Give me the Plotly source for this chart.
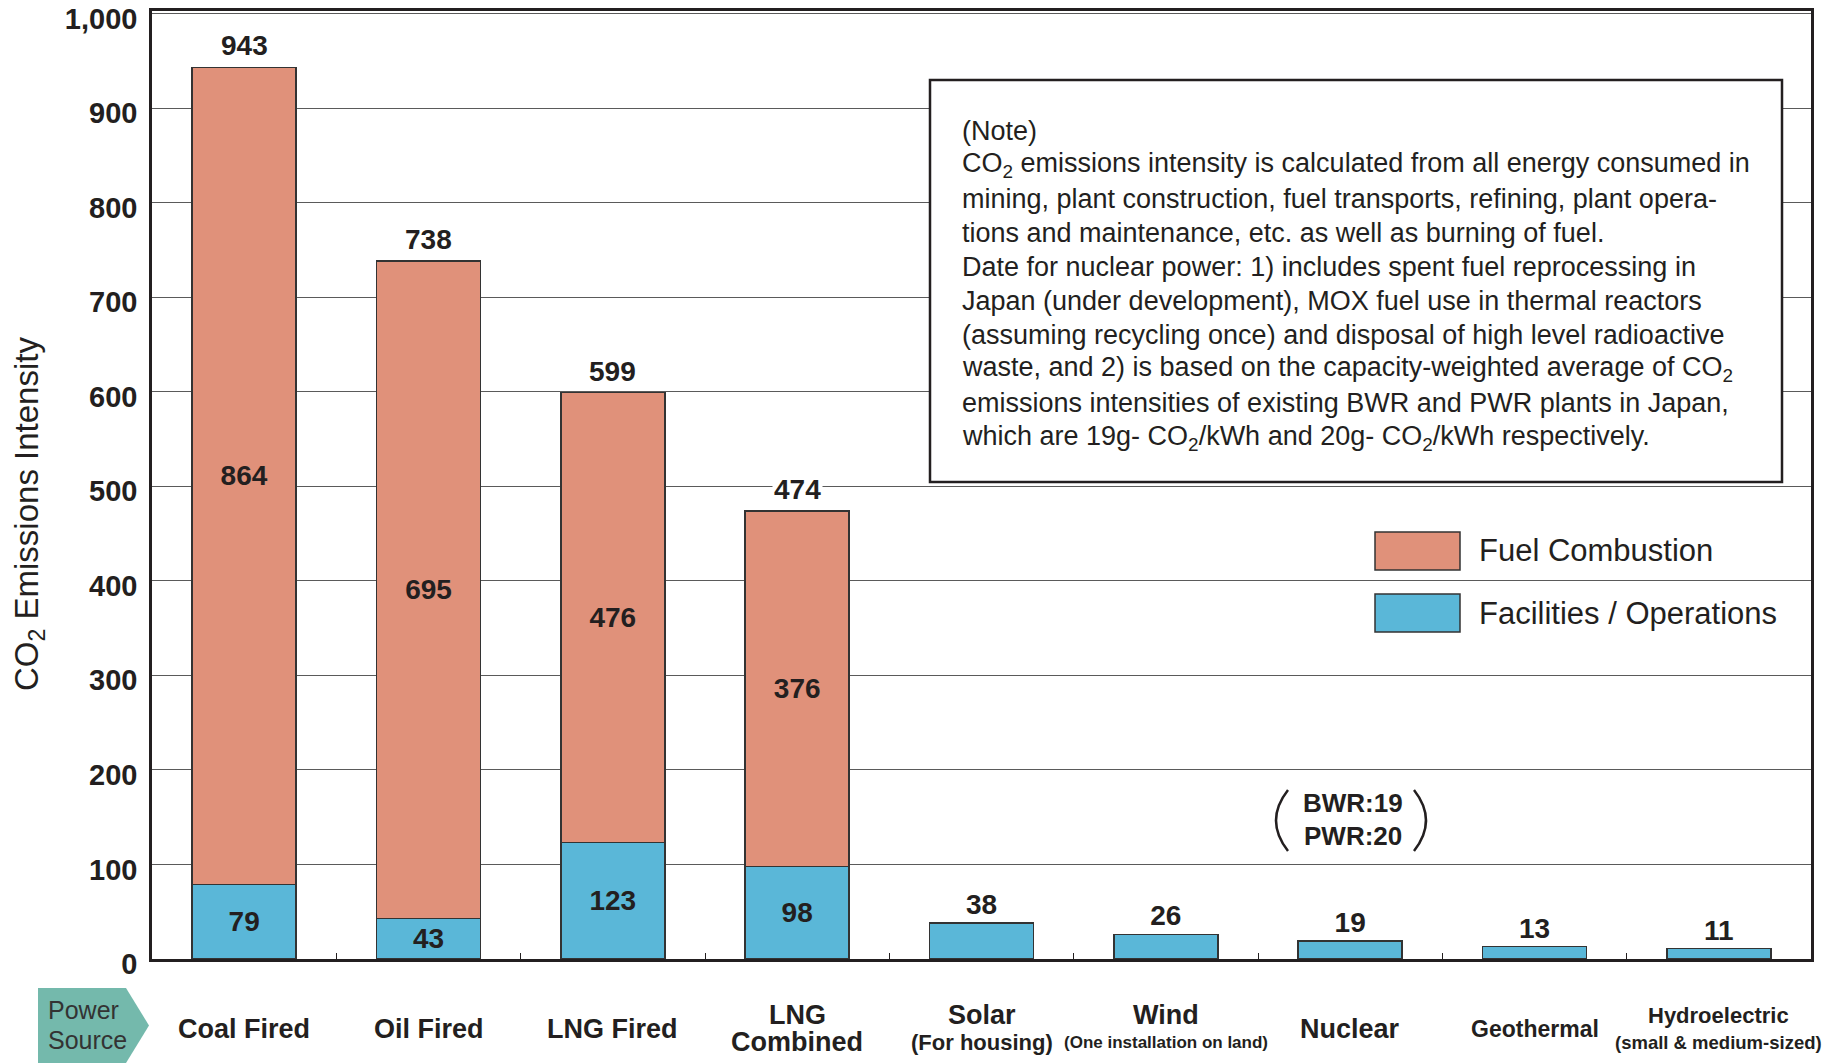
import plotly.graph_objects as go

# ---- data ----
categories = ["Coal Fired", "Oil Fired", "LNG Fired", "LNG Combined", "Solar",
              "Wind", "Nuclear", "Geothermal", "Hydroelectric"]
# fuel combustion applies only to the thermal sources (first four categories)
fuel_combustion = [864, 695, 476, 376]
facilities_operations = [79, 43, 123, 98, 38, 26, 19, 13, 11]

label_main = [["Coal Fired"], ["Oil Fired"], ["LNG Fired"], ["LNG", "Combined"], ["Solar"],
              ["Wind"], ["Nuclear"], ["Geothermal"], ["Hydroelectric"]]
label_main_size = [27, 27, 27, 27, 27, 27, 27, 23, 22]
label_sub = ["", "", "", "", "(For housing)", "(One installation on land)", "", "",
             "(small & medium-sized)"]
label_sub_size = [0, 0, 0, 0, 22, 17, 0, 0, 18.5]

y_ticks = [0, 100, 200, 300, 400, 500, 600, 700, 800, 900, 1000]

note_lines = [
    "(Note)",
    "CO<sub>2</sub> emissions intensity is calculated from all energy consumed in",
    "mining, plant construction, fuel transports, refining, plant opera-",
    "tions and maintenance, etc. as well as burning of fuel.",
    "Date for nuclear power: 1) includes spent fuel reprocessing in",
    "Japan (under development), MOX fuel use in thermal reactors",
    "(assuming recycling once) and disposal of high level radioactive",
    "waste, and 2) is based on the capacity-weighted average of CO<sub>2</sub>",
    "emissions intensities of existing BWR and PWR plants in Japan,",
    "which are 19g- CO<sub>2</sub>/kWh and 20g- CO<sub>2</sub>/kWh respectively.",
]
nuclear_detail = ["BWR:19", "PWR:20"]

# ---- styling ----
W, H = 1829, 1064
L, R, T, B = 152, 1811, 11, 959
FUEL = "#E0917A"
FAC = "#5AB7D8"
INK = "#231F20"
SANS = "Liberation Sans, Arial, Helvetica, sans-serif"


def px_x(px):
    return (px - L) / (R - L)


def px_y(py):
    return (B - py) / (B - T)


n_fuel = len(fuel_combustion)
fuel_cats = categories[:n_fuel]
totals = [f + c for f, c in zip(fuel_combustion, facilities_operations[:n_fuel])]
fac_positions = ["inside" if i < n_fuel else "outside" for i in range(len(categories))]
bold28 = dict(family=SANS, size=28, color=INK, weight="bold")

fig = go.Figure()
fig.add_trace(go.Bar(
    x=categories, y=facilities_operations, name="Facilities / Operations",
    marker=dict(color=FAC, line=dict(color="#333333", width=1.5)),
    text=[str(v) for v in facilities_operations], textposition=fac_positions,
    insidetextanchor="middle", textangle=0, constraintext="none",
    textfont=bold28, outsidetextfont=bold28, cliponaxis=False,
    width=0.565, hoverinfo="skip",
))
fig.add_trace(go.Bar(
    x=fuel_cats, y=fuel_combustion, name="Fuel Combustion",
    marker=dict(color=FUEL, line=dict(color="#333333", width=1.5)),
    text=[str(v) for v in fuel_combustion], textposition="inside",
    insidetextanchor="middle", textangle=0, constraintext="none",
    textfont=bold28, width=0.565, hoverinfo="skip",
))

annotations = []
shapes = []

# stacked totals above the thermal bars
for cat, tot in zip(fuel_cats, totals):
    annotations.append(dict(
        x=cat, y=tot, xref="x", yref="y", text=str(tot), showarrow=False,
        yanchor="bottom", yshift=4, bgcolor="white", borderpad=1, font=bold28,
    ))

# category labels beneath the axis
for cat, main, msize, sub, ssize in zip(categories, label_main, label_main_size,
                                        label_sub, label_sub_size):
    if len(main) == 2:
        lines = [(main[0], msize, 1015), (main[1], msize, 1042)]
    elif sub:
        lines = [(main[0], msize, 1015), (sub, ssize, 1042)]
    else:
        lines = [(main[0], msize, 1029)]
    for txt, s, py in lines:
        annotations.append(dict(
            x=cat, xref="x", y=px_y(py), yref="paper", text=txt, showarrow=False,
            yanchor="middle", xanchor="center",
            font=dict(family=SANS, size=s, color=INK, weight="bold"),
        ))

# y-axis title
annotations.append(dict(
    x=px_x(29), y=px_y(514), xref="paper", yref="paper",
    text="CO<sub>2</sub> Emissions Intensity", textangle=-90, showarrow=False,
    xanchor="center", yanchor="middle",
    font=dict(family=SANS, size=33, color=INK),
))

# note box
shapes.append(dict(type="rect", xref="paper", yref="paper",
                   x0=px_x(930), x1=px_x(1782), y0=px_y(482), y1=px_y(80),
                   fillcolor="white", line=dict(color=INK, width=2.5), layer="above"))
for i, line in enumerate(note_lines):
    annotations.append(dict(
        x=px_x(960), y=px_y(130.6 + i * 34.1), xref="paper", yref="paper",
        text=line, showarrow=False, xanchor="left", yanchor="middle", align="left",
        font=dict(family=SANS, size=27, color=INK),
    ))

# legend
legend_items = [("Fuel Combustion", FUEL, 532, 570), ("Facilities / Operations", FAC, 594, 632)]
for name, col, y0, y1 in legend_items:
    shapes.append(dict(type="rect", xref="paper", yref="paper",
                       x0=px_x(1375), x1=px_x(1460), y0=px_y(y1), y1=px_y(y0),
                       fillcolor=col, line=dict(color="#333333", width=1.5), layer="above"))
    annotations.append(dict(
        x=px_x(1477), y=px_y((y0 + y1) / 2), xref="paper", yref="paper",
        text=name, showarrow=False, xanchor="left", yanchor="middle",
        font=dict(family=SANS, size=31, color=INK),
    ))

# nuclear breakdown with parentheses
for i, txt in enumerate(nuclear_detail):
    annotations.append(dict(
        x=px_x(1353), y=px_y(803 + i * 32.5), xref="paper", yref="paper",
        text=txt, showarrow=False, xanchor="center", yanchor="middle",
        font=dict(family=SANS, size=26, color=INK, weight="bold"),
    ))
for xe, xc in [(1288, 1264), (1414, 1438)]:
    shapes.append(dict(
        type="path", xref="paper", yref="paper",
        path=f"M {px_x(xe)},{px_y(790)} Q {px_x(xc)},{px_y(820.5)} {px_x(xe)},{px_y(851)}",
        line=dict(color=INK, width=2.5), layer="above",
    ))

# "Power Source" badge
bx = [38, 126, 149, 126, 38]
by = [988, 988, 1025.5, 1063, 1063]
path = "M " + " L ".join(f"{px_x(a)},{px_y(b)}" for a, b in zip(bx, by)) + " Z"
shapes.append(dict(type="path", xref="paper", yref="paper", path=path,
                   fillcolor="#74B9AC", line=dict(width=0), layer="above"))
for txt, py in [("Power", 1010), ("Source", 1040)]:
    annotations.append(dict(
        x=px_x(46), y=px_y(py), xref="paper", yref="paper", text=txt,
        showarrow=False, xanchor="left", yanchor="middle",
        font=dict(family=SANS, size=25, color="#333333"),
    ))

fig.update_layout(
    width=W, height=H,
    margin=dict(l=L, r=W - R, t=T, b=H - B, pad=0, autoexpand=False),
    barmode="stack",
    plot_bgcolor="white", paper_bgcolor="white",
    showlegend=False,
    uniformtext=dict(minsize=28, mode="show"),
    annotations=annotations, shapes=shapes,
    font=dict(family=SANS, color=INK),
)
fig.update_xaxes(
    range=[-0.5, 8.5], showticklabels=False, automargin=False,
    ticks="inside", tickson="boundaries", ticklen=6, tickcolor=INK, tickwidth=1.2,
    showline=True, linecolor=INK, linewidth=2.5, mirror=True,
    showgrid=False,
)
fig.update_yaxes(
    range=[0, (B - T) / ((B - 108) / 900)], automargin=False,
    tickvals=y_ticks, tickformat=",d", ticks="",
    tickfont=dict(family=SANS, size=29, color=INK, weight="bold"),
    ticklabeloverflow="allow", ticklabelshift=5,
    showline=True, linecolor=INK, linewidth=2.5, mirror=True,
    showgrid=True, gridcolor="#5a5a5a", gridwidth=1.3,
    zeroline=False, ticklabelstandoff=6,
)

fig.write_html("out.html")
